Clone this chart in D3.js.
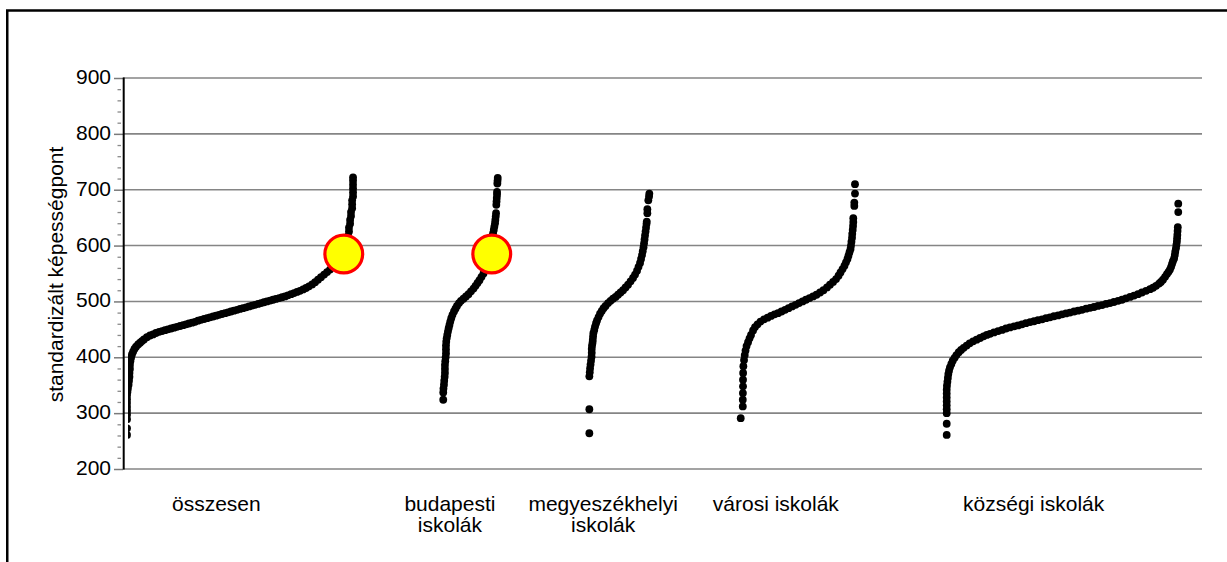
<!DOCTYPE html>
<html>
<head>
<meta charset="utf-8">
<script src="https://cdn.jsdelivr.net/npm/d3@7"></script>
<style>
body { margin: 0; background: #fff; }
text { font-family: "Liberation Sans", Arial, sans-serif; }
</style>
</head>
<body>
<svg id="chart" width="1227" height="562"></svg>
<script>
// Kategóriák (soronként)
const categories = [["összesen"], ["budapesti", "iskolák"], ["megyeszékhelyi", "iskolák"], ["városi iskolák"], ["községi iskolák"]];
const yTicks = [200, 300, 400, 500, 600, 700, 800, 900];
const yTitle = "standardizált képességpont";

// Iskolák: [rangsor a csoporton belül (%), standardizált képességpont]
const osszesen = [[0,261],[0,273],[0,289],[0,297],[0,304],[0,311],[0,318],[0,325],[0,332],
  [0.2,338],[0.4,344],[0.7,351],[0.9,358],[1.1,365],[1.1,372],[1.3,379],[1.3,386],[1.5,393],[1.8,399],[2.2,405],[2.7,410],[3.3,415],[4.0,419],[4.9,423],[5.8,426],[6.6,429],[7.5,432],[8.8,436],[10.2,439],
  [11.5,441],[12.8,443.5],[14.2,445.5],[15.5,447],[16.8,448.5],[18.1,450],[19.5,451.5],[20.8,453],[22.1,454.5],[23.5,456],[24.8,457.5],[26.1,459],[27.4,460.5],[28.8,462],[30.1,463.5],[31.4,465.5],[32.7,467],[34.1,468.5],[35.4,470],[36.7,471.5],[38.1,473],[39.4,474.5],[40.7,476],[42.0,477.5],[43.4,479],[44.7,480.5],[46.0,482],[47.3,483.5],[48.7,485],[50.0,486.5],[51.3,488],[52.7,489.5],[54.0,491],[55.3,492.5],[56.6,494],[58.0,495.5],[59.3,497],[60.6,498.5],[61.9,500],[63.3,501.5],[64.6,503],[65.9,504.5],[67.3,506],[68.6,507.5],[69.9,509],[71.2,511],[72.6,513],[73.9,515],[75.2,517],[76.5,519],[77.9,521.5],[79.2,524],[80.5,527],[81.9,530.5],[83.2,534.5],[84.5,539],[85.8,543.5],[87.2,548],[88.5,552.5],[89.8,557],[91.2,562],[92.5,568],[93.4,572],[94.2,576],[95.1,581],[96.0,590],[96.9,603],[97.8,617],[98.2,625],[98.2,632],[98.7,639],[98.7,646],[99.1,653],[99.1,660],[99.6,667],[99.6,674],[99.6,681],[100,688],[100,695],[100,702],[100,709],[100,716],[100,722]];

const budapesti = [[0,324],[0,337],[0.4,344],[1.3,351],[1.8,358],[2.6,365],[3.1,372],[3.1,379],[3.1,386],[3.7,393],[4.4,400],[5.0,407],[5.0,414],[5.0,421],[5.5,428],[6.3,434],[7.4,440],[8.6,446],[9.9,452],[11.4,458],[12.9,464],[14.7,470],[16.9,476],[19.7,482],[22.4,487],[25.2,492],[28.9,497],[32.5,501],[37.1,505],[41.7,509],[46.3,513],[50.9,518],[55.5,523],[59.2,528],[62.9,533],[66.5,538],[70.2,544],[73.9,550],[77.6,557],[81.3,565],[84.9,574],[87.7,582],[88.6,590],[89.5,600],[90.4,611],[91.4,622],[92.7,628],[93.8,634],[95.0,640],[95.6,646],[96.3,652],[96.9,658],[97.4,673],[97.8,679],[98.2,685],[98.7,691],[98.7,696],[99.3,711],[99.6,716],[100,721]];

const megyeszekhelyi = [[0,264],[0,307],[0,366],[0.7,373],[1.2,380],[2.0,387],[2.8,394],[3.7,401],[4.0,408],[4.0,415],[4.5,421],[5.3,426],[5.7,431],[6.2,437],[6.7,443],[8.2,449],[9.5,455],[11.2,461],[12.8,466],[15.3,472],[17.8,478],[20.7,483],[23.7,488],[27.0,492],[31.2,497],[35.3,501],[39.5,505],[43.7,508],[47.8,512],[52.0,516],[56.2,520],[60.3,525],[64.5,530],[68.7,536],[72.8,542],[76.2,548],[79.5,555],[82.0,562],[84.5,569],[86.2,576],[87.8,583],[89.0,590],[90.3,597],[91.2,604],[92.0,611],[92.8,618],[93.7,625],[94.5,632],[95.3,639],[95.7,643],[96.7,658],[96.7,665],[98.3,681],[99.5,688],[100,693]];

const varosi = [[0,291],[1.8,312],[1.8,324],[1.9,336],[2.0,348],[2.0,360],[2.1,372],[2.3,384],[2.9,395],[3.5,404],[4.2,412],[5.1,420],[6.4,427],[7.7,434],[9.0,440],[10.8,448],[12.5,454],[14.7,459],[17.3,464],[20.4,468],[23.5,471],[26.5,474],[29.6,477],[32.6,479],[35.7,482],[38.8,485],[41.8,488],[44.9,491],[48.0,494],[51.0,497],[54.1,500],[57.1,503],[60.2,506],[63.3,509],[66.3,512],[69.4,516],[72.4,520],[75.5,525],[78.1,530],[80.8,535],[83.4,540],[85.6,546],[87.3,552],[89.1,558],[90.8,564],[92.1,570],[93.4,576],[94.3,582],[95.2,588],[96.1,594],[96.5,600],[96.9,607],[97.4,614],[97.6,621],[98.0,628],[98.3,635],[98.5,642],[98.5,649],[99.4,671],[99.4,677],[100,693],[100,710]];

const kozsegi = [[0,261],[0,281],[0,300],[0,307],[0,314],[0,321],[0,328],[0,335],[0,342],[0.1,349],[0.3,356],[0.5,363],[0.7,370],[1.0,376],[1.4,382],[2.0,388],[2.6,394],[3.4,399],[4.2,404],[5.2,409],[6.2,413],[7.3,417],[8.6,421],[9.9,425],[11.4,428.5],[12.9,431.5],[14.4,434.5],[15.9,437.5],[17.3,440],[18.7,442],[20.4,444.5],[22.2,447],[23.9,449],[25.6,451.5],[27.3,453.5],[29.1,455.5],[30.8,457],[32.5,459],[34.2,461],[36.0,463],[37.7,464.5],[39.4,466.5],[41.2,468],[42.9,470],[44.6,471.5],[46.3,473.5],[48.1,475],[49.8,477],[51.5,478.5],[53.2,480],[55.0,482],[56.7,483.5],[58.4,485],[60.2,487],[61.9,488.5],[63.6,490],[65.3,492],[67.1,493.5],[68.8,495.5],[70.5,497],[72.2,499],[74.0,501],[75.7,503],[77.4,505.5],[79.2,508],[80.9,510.5],[82.6,513],[84.3,516],[86.1,519],[87.8,522],[89.1,524.5],[90.4,528],[91.7,532],[92.5,535],[93.4,539],[94.3,544],[95.1,549],[95.8,553],[96.4,557],[96.9,562],[97.3,567],[97.7,572],[98.2,577],[98.5,583],[98.7,589],[99.0,595],[99.2,601],[99.4,607],[99.5,613],[99.6,619],[99.7,626],[99.8,633],[100,660],[100,675]];

// kiemelt iskola: [csoport, rangsor %, pont]
const highlight = [[0, 95.9, 585], [1, 89.0, 585]];

const series = [osszesen, budapesti, megyeszekhelyi, varosi, kozsegi];

// ---- elrendezés ----
const width = 1227, height = 562;
const plotLeft = 123, plotRight = 1202, plotTop = 78, plotBottom = 469;
// a vízszintes tengely 0-100 egységben, csoportok helye rajta
const groupSpan = [[0.37, 21.32], [29.68, 34.73], [43.22, 48.78], [57.25, 67.84], [76.34, 97.8]];
const labelAt = [8.65, 30.3, 44.5, 60.5, 84.4];

const svg = d3.select("#chart");

const x = d3.scaleLinear().domain([0, 100]).range([plotLeft, plotRight]);
const y = d3.scaleLinear().domain([200, 900]).range([plotBottom, plotTop]);

// keret
svg.append("path")
  .attr("d", `M7.25,${height + 5} V10.5 H${width + 5}`)
  .attr("fill", "none")
  .attr("stroke", "#000")
  .attr("stroke-width", 2.5);

// rácsvonalak
svg.append("g")
  .selectAll("line")
  .data(yTicks)
  .join("line")
  .attr("x1", plotLeft).attr("x2", plotRight)
  .attr("y1", d => y(d)).attr("y2", d => y(d))
  .attr("stroke", "#858585")
  .attr("stroke-width", 1.6);

// kis beosztások
const minor = d3.range(200, 901, 20).filter(d => d % 100 !== 0);
const minorAxis = svg.append("g")
  .attr("transform", "translate(121,0)")
  .call(d3.axisLeft(y).tickValues(minor).tickSize(3.5).tickFormat(""));
minorAxis.select(".domain").remove();
minorAxis.selectAll("line").attr("stroke", "#8a8a8a").attr("stroke-width", 1.3);

// fő beosztások
const yAxis = svg.append("g")
  .attr("transform", `translate(${plotLeft},0)`)
  .call(d3.axisLeft(y).tickValues(yTicks).tickSize(9).tickPadding(3));
yAxis.select(".domain").remove();
yAxis.selectAll(".tick line").attr("stroke", "#7a7a7a").attr("stroke-width", 1.5);
yAxis.selectAll(".tick text")
  .attr("dy", "0.26em")
  .attr("fill", "#000")
  .style("font-size", "21px")
  .style("font-family", "'Liberation Sans', Arial, sans-serif");

// függőleges tengely
svg.append("line")
  .attr("x1", plotLeft + 0.7).attr("x2", plotLeft + 0.7)
  .attr("y1", plotTop - 0.5).attr("y2", plotBottom + 0.5)
  .attr("stroke", "#000")
  .attr("stroke-width", 2);

// tengelycím
svg.append("text")
  .attr("transform", `translate(63,${(plotTop + plotBottom) / 2 + 1}) rotate(-90)`)
  .attr("text-anchor", "middle")
  .style("font-size", "21px")
  .text(yTitle);

// pontok
svg.append("clipPath").attr("id", "plotclip")
  .append("rect")
  .attr("x", plotLeft + 5).attr("y", plotTop - 20)
  .attr("width", plotRight - plotLeft).attr("height", plotBottom - plotTop + 20);

const plot = svg.append("g").attr("clip-path", "url(#plotclip)");

const groupX = groupSpan.map(s => d3.scaleLinear().domain([0, 100]).range([x(s[0]), x(s[1])]));

series.forEach((data, i) => {
  plot.append("g")
    .selectAll("circle")
    .data(data)
    .join("circle")
    .attr("cx", d => groupX[i](d[0]))
    .attr("cy", d => y(d[1]))
    .attr("r", 3.9)
    .attr("fill", "#000");
});

// kiemelt iskola
svg.append("g")
  .selectAll("circle")
  .data(highlight)
  .join("circle")
  .attr("cx", d => groupX[d[0]](d[1]))
  .attr("cy", d => y(d[2]))
  .attr("r", 18.9)
  .attr("fill", "#ffff00")
  .attr("stroke", "#ff0000")
  .attr("stroke-width", 3.2);

// csoport címkék
const labels = svg.append("g")
  .selectAll("text")
  .data(categories)
  .join("text")
  .attr("text-anchor", "middle")
  .style("font-size", "21px")
  .attr("transform", (d, i) => `translate(${x(labelAt[i])},511)`);

labels.selectAll("tspan")
  .data(d => d)
  .join("tspan")
  .attr("x", 0)
  .attr("y", (d, j) => j * 21)
  .text(d => d);
</script>
</body>
</html>
